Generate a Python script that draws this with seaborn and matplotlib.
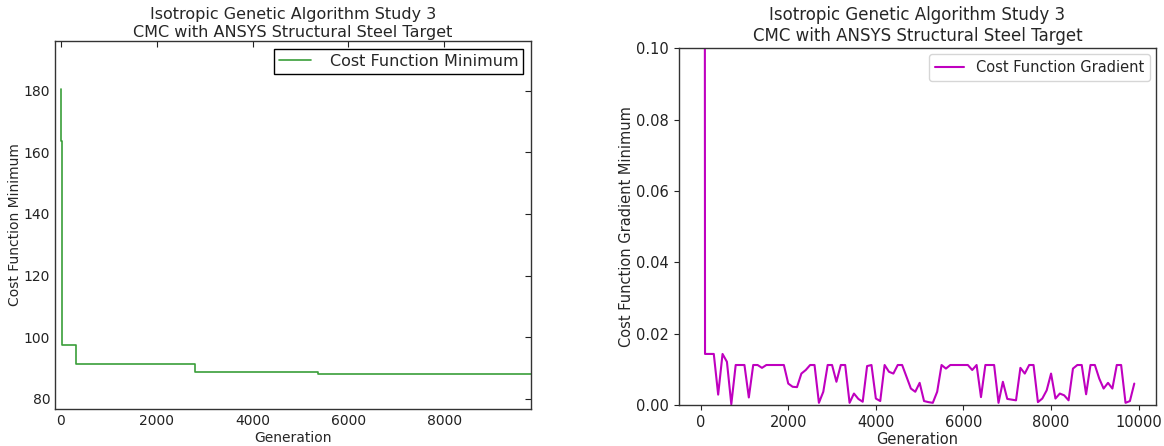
import numpy as np
import pandas as pd
import matplotlib
matplotlib.use('Agg')
import matplotlib.pyplot as plt
import seaborn as sns

# Cost function minimum (step changes, generation -> value)
min_gen = [0, 12, 30, 310, 2800, 5360, 9810]
min_cost = [180.6, 163.7, 97.5, 91.4, 88.75, 87.9, 87.9]

# Cost function gradient sampled every 100 generations
grad_gen = list(range(0, 10000, 100))
grad_val = [2.5, 0.0143, 0.0143, 0.0143, 0.0029, 0.0143, 0.0121, 0.0002, 0.0112, 0.0112,
            0.0112, 0.0021, 0.0112, 0.0112, 0.0104, 0.0112, 0.0112, 0.0112, 0.0112, 0.0112,
            0.0060, 0.0051, 0.0050, 0.0088, 0.0098, 0.0112, 0.0112, 0.0006, 0.0037, 0.0112,
            0.0112, 0.0065, 0.0112, 0.0112, 0.0006, 0.0032, 0.0017, 0.0009, 0.0109, 0.0112,
            0.0018, 0.0011, 0.0112, 0.0093, 0.0088, 0.0112, 0.0112, 0.0079, 0.0046, 0.0037,
            0.0062, 0.0011, 0.0008, 0.0006, 0.0037, 0.0112, 0.0102, 0.0112, 0.0112, 0.0112,
            0.0112, 0.0112, 0.0098, 0.0112, 0.0022, 0.0112, 0.0112, 0.0112, 0.0006, 0.0065,
            0.0017, 0.0015, 0.0013, 0.0104, 0.0088, 0.0112, 0.0112, 0.0008, 0.0018, 0.0041,
            0.0088, 0.0018, 0.0032, 0.0027, 0.0013, 0.0102, 0.0112, 0.0112, 0.0030, 0.0112,
            0.0112, 0.0074, 0.0046, 0.0062, 0.0046, 0.0112, 0.0112, 0.0006, 0.0011, 0.0060]

title = 'Isotropic Genetic Algorithm Study 3\nCMC with ANSYS Structural Steel Target'

sns.set_style('white')
plt.rcParams['font.family'] = ['DejaVu Sans']

fig = plt.figure(figsize=(11.64, 4.46), dpi=100)
ax1 = fig.add_axes([0.0473, 0.083, 0.409, 0.825])
ax2 = fig.add_axes([0.5833, 0.092, 0.4098, 0.800])

# Left: classic-looking step plot
df_min = pd.DataFrame({'Generation': min_gen, 'Cost': min_cost})
sns.lineplot(data=df_min, x='Generation', y='Cost', ax=ax1, color='#3a9e3a',
             linewidth=1.2, drawstyle='steps-post', label='Cost Function Minimum')
ax1.set_xlim(-120, 9810)
ax1.set_ylim(76.7, 196.1)
ax1.set_xticks([0, 2000, 4000, 6000, 8000])
ax1.set_yticks([80, 100, 120, 140, 160, 180])
ax1.tick_params(direction='in', top=True, right=True, length=4, width=0.8,
                labelsize=10, colors='#222222')
for s in ax1.spines.values():
    s.set_color('#333333')
    s.set_linewidth(1.0)
ax1.set_xlabel('Generation', fontsize=10, labelpad=2)
ax1.set_ylabel('Cost Function Minimum', fontsize=10, labelpad=1)
ax1.set_title(title, fontsize=11.5, pad=3)
leg1 = ax1.legend(loc='upper right', fontsize=11.5, fancybox=False, framealpha=1,
                  borderaxespad=0.5, borderpad=0.3, handlelength=2.0, handletextpad=1.2)
leg1.get_frame().set_edgecolor('black')
leg1.get_frame().set_linewidth(1.0)

# Right: gradient line
df_grad = pd.DataFrame({'Generation': grad_gen, 'Gradient': grad_val})
sns.lineplot(data=df_grad, x='Generation', y='Gradient', ax=ax2, color='#bf00bf',
             linewidth=1.5, label='Cost Function Gradient')
ax2.set_xlim(-495, 10395)
ax2.set_ylim(0, 0.1)
ax2.set_xticks([0, 2000, 4000, 6000, 8000, 10000])
ax2.set_yticks([0, 0.02, 0.04, 0.06, 0.08, 0.10])
ax2.set_yticklabels(['0.00', '0.02', '0.04', '0.06', '0.08', '0.10'])
ax2.tick_params(direction='out', length=3.5, width=0.8, labelsize=10.5, colors='#222222',
                bottom=True, left=True)
for s in ax2.spines.values():
    s.set_color('#333333')
    s.set_linewidth(1.0)
ax2.set_xlabel('Generation', fontsize=10.5, labelpad=2)
ax2.set_ylabel('Cost Function Gradient Minimum', fontsize=10.5, labelpad=2)
ax2.set_title(title, fontsize=12, pad=5)
ax2.legend(loc='upper right', fontsize=10.5, fancybox=True, framealpha=0.8,
           handlelength=2.0, borderaxespad=0.4)

fig.savefig('out.png', dpi=100)
